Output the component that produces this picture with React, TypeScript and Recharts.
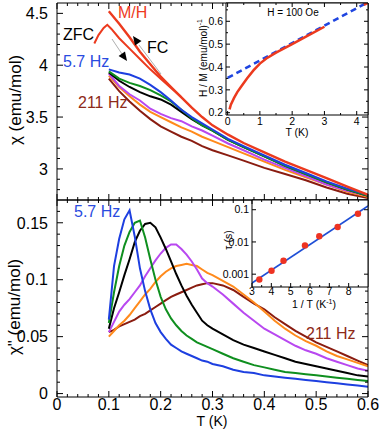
import React from "react";
import { ComposedChart, Line, Scatter, XAxis, YAxis } from "recharts";

const W = 382;
const H = 429;
const FONT = "'Liberation Sans', Arial, Helvetica, sans-serif";

// chi' (top panel), temperature grid in K
const tempsRe = [0.1, 0.12, 0.14, 0.16, 0.18, 0.2, 0.22, 0.24, 0.26, 0.28, 0.3, 0.33, 0.36, 0.4, 0.44, 0.48, 0.52, 0.56, 0.6];
const reBlue = [3.96, 3.93, 3.91, 3.87, 3.81, 3.74, 3.66, 3.57, 3.5, 3.44, 3.38, 3.29, 3.22, 3.13, 3.04, 2.96, 2.88, 2.81, 2.75];
const reGreen = [3.94, 3.87, 3.83, 3.8, 3.76, 3.71, 3.65, 3.57, 3.49, 3.42, 3.37, 3.28, 3.21, 3.12, 3.03, 2.95, 2.87, 2.8, 2.74];
const reBlack = [3.93, 3.85, 3.79, 3.74, 3.7, 3.67, 3.62, 3.55, 3.48, 3.42, 3.37, 3.28, 3.21, 3.12, 3.03, 2.95, 2.87, 2.8, 2.74];
const rePurple = [3.92, 3.8, 3.72, 3.66, 3.58, 3.53, 3.49, 3.46, 3.41, 3.37, 3.32, 3.245, 3.18, 3.09, 3.01, 2.93, 2.85, 2.79, 2.74];
const reOrange = [3.9, 3.79, 3.7, 3.62, 3.55, 3.5, 3.45, 3.4, 3.36, 3.31, 3.27, 3.21, 3.15, 3.07, 2.99, 2.92, 2.85, 2.78, 2.73];
const reBrown = [3.87, 3.75, 3.65, 3.56, 3.48, 3.41, 3.36, 3.31, 3.27, 3.22, 3.18, 3.13, 3.08, 3.01, 2.95, 2.89, 2.82, 2.76, 2.72];
const fcMH = [4.52, 4.4, 4.27, 4.13, 4.01, 3.89, 3.79, 3.69, 3.59, 3.5, 3.42, 3.33, 3.25, 3.16, 3.07, 2.99, 2.91, 2.83, 2.75];

// zero-field-cooled M/H branch
const zfcTemps = [0.072, 0.08, 0.09, 0.097, 0.105, 0.12, 0.14, 0.16, 0.18, 0.2, 0.22, 0.24];
const zfcMH = [4.21, 4.29, 4.36, 4.39, 4.35, 4.26, 4.16, 4.06, 3.96, 3.87, 3.78, 3.69];

// chi'' (bottom panel)
const tempsIm = [0.1, 0.11, 0.12, 0.13, 0.14, 0.15, 0.16, 0.17, 0.18, 0.19, 0.2, 0.21, 0.22, 0.23, 0.24, 0.25, 0.26, 0.27, 0.28, 0.29, 0.3, 0.32, 0.34, 0.36, 0.38, 0.4, 0.42, 0.44, 0.46, 0.48, 0.5, 0.52, 0.54, 0.56, 0.58, 0.6];
const imBlue = [0.065, 0.112, 0.136, 0.153, 0.161, 0.138, 0.11, 0.09, 0.074, 0.062, 0.054, 0.048, 0.043, 0.04, 0.037, 0.035, 0.033, 0.031, 0.029, 0.028, 0.026, 0.024, 0.021, 0.019, 0.018, 0.016, 0.015, 0.014, 0.013, 0.012, 0.011, 0.01, 0.009, 0.008, 0.007, 0.006];
const imGreen = [0.062, 0.089, 0.112, 0.13, 0.142, 0.15, 0.152, 0.137, 0.118, 0.1, 0.085, 0.074, 0.066, 0.06, 0.055, 0.051, 0.048, 0.045, 0.043, 0.041, 0.039, 0.035, 0.031, 0.028, 0.025, 0.023, 0.021, 0.019, 0.018, 0.017, 0.016, 0.015, 0.014, 0.013, 0.012, 0.011];
const imBlack = [0.057, 0.075, 0.089, 0.104, 0.118, 0.133, 0.143, 0.149, 0.15, 0.146, 0.137, 0.127, 0.116, 0.105, 0.095, 0.086, 0.078, 0.071, 0.064, 0.06, 0.057, 0.052, 0.047, 0.043, 0.04, 0.037, 0.034, 0.031, 0.028, 0.026, 0.024, 0.022, 0.02, 0.018, 0.016, 0.015];
const imPurple = [0.054, 0.063, 0.072, 0.078, 0.083, 0.089, 0.095, 0.103, 0.11, 0.117, 0.123, 0.128, 0.131, 0.131, 0.127, 0.122, 0.116, 0.109, 0.101, 0.097, 0.094, 0.087, 0.079, 0.071, 0.064, 0.057, 0.052, 0.047, 0.042, 0.038, 0.035, 0.031, 0.028, 0.025, 0.022, 0.02];
const imOrange = [0.05, 0.055, 0.06, 0.064, 0.069, 0.075, 0.081, 0.087, 0.092, 0.098, 0.103, 0.107, 0.11, 0.112, 0.113, 0.114, 0.113, 0.112, 0.109, 0.106, 0.104, 0.099, 0.094, 0.087, 0.08, 0.072, 0.064, 0.057, 0.051, 0.046, 0.042, 0.037, 0.033, 0.03, 0.027, 0.024];
const imBrown = [0.054, 0.056, 0.059, 0.061, 0.063, 0.065, 0.068, 0.07, 0.073, 0.076, 0.079, 0.082, 0.085, 0.087, 0.089, 0.091, 0.093, 0.095, 0.096, 0.097, 0.097, 0.095, 0.091, 0.085, 0.079, 0.074, 0.067, 0.061, 0.055, 0.05, 0.045, 0.041, 0.037, 0.033, 0.029, 0.025];

// inset: H/M vs T
const hmTemps = [0.06, 0.1, 0.2, 0.3, 0.4, 0.5, 0.6, 0.8, 1.0, 1.2, 1.5, 2.0, 2.5, 3.0];
const hmValues = [0.215, 0.235, 0.265, 0.29, 0.31, 0.33, 0.35, 0.385, 0.415, 0.437, 0.463, 0.5, 0.538, 0.576];
const hmTailTemps = [4.22, 4.35];
const hmTailValues = [0.672, 0.681];
const cwTemps = [0, 4.35];
const cwValues = [0.352, 0.684];

// inset: tau vs 1/T
const invT = [3.38, 4.01, 4.63, 5.74, 6.48, 7.43, 8.48];
const tau = [0.00068, 0.00128, 0.0026, 0.0078, 0.015, 0.029, 0.075];
const fitInvT = [3, 9];
const fitTau = [0.00053, 0.13];

const C = {
  blue: "#1d3fe0",
  green: "#0f8f1f",
  black: "#000000",
  purple: "#b848f0",
  orange: "#ff8a1c",
  brown: "#8a1c10",
  red: "#ec3a1e",
};

const steps = (from: number, to: number, step: number) => {
  const out: number[] = [];
  for (let v = from; v <= to + step / 1000; v += step) out.push(Math.round(v * 1e6) / 1e6);
  return out;
};

type Side = "bottom" | "top" | "left" | "right";
interface TickStyle {
  labels: boolean;
  fs: number;
  gap: number;
  major: number;
  minor: number;
}

const isIn = (list: number[], v: number) => list.some((m) => Math.abs(m - v) < 1e-9);

const tickFn = (side: Side, majors: number[], s: TickStyle) => (p: any) => {
  const v = Number(p.payload.value);
  const major = isIn(majors, v);
  const len = major ? s.major : s.minor;
  const { x, y } = p;
  const x2 = side === "left" ? x + len : side === "right" ? x - len : x;
  const y2 = side === "bottom" ? y - len : side === "top" ? y + len : y;
  let label = null;
  if (s.labels && major) {
    label =
      side === "bottom" ? (
        <text x={x} y={y + s.gap} textAnchor="middle" fontSize={s.fs} fontFamily={FONT} fill="#000">
          {String(v)}
        </text>
      ) : (
        <text x={x - s.gap} y={y + s.fs * 0.36} textAnchor="end" fontSize={s.fs} fontFamily={FONT} fill="#000">
          {String(v)}
        </text>
      );
  }
  return (
    <g>
      <line x1={x} y1={y} x2={x2} y2={y2} stroke="#000" strokeWidth={1} />
      {label}
    </g>
  );
};

interface FrameOpts {
  xKey: string;
  xDomain: [number, number];
  yDomain: [number, number];
  xTicks: number[];
  xMajor: number[];
  yTicks: number[];
  yMajor: number[];
  yScale?: "linear" | "log";
  xStyle: TickStyle;
  yStyle: TickStyle;
}

// axes are 1px thick, so every margin below is one px short of the frame edge
function frame(o: FrameOpts) {
  const mute = (s: TickStyle) => ({ ...s, labels: false });
  const common = { interval: 0 as const, tickSize: 0, tickMargin: 0, tickLine: false, axisLine: { stroke: "#000" }, allowDataOverflow: true };
  return [
    <XAxis key="xb" xAxisId="b" dataKey={o.xKey} type="number" domain={o.xDomain} ticks={o.xTicks} height={1} tick={tickFn("bottom", o.xMajor, o.xStyle)} {...common} />,
    <XAxis key="xt" xAxisId="t" dataKey={o.xKey} orientation="top" type="number" domain={o.xDomain} ticks={o.xTicks} height={1} tick={tickFn("top", o.xMajor, mute(o.xStyle))} {...common} />,
    <YAxis key="yl" yAxisId="l" type="number" scale={o.yScale ?? "linear"} domain={o.yDomain} ticks={o.yTicks} width={1} tick={tickFn("left", o.yMajor, o.yStyle)} {...common} />,
    <YAxis key="yr" yAxisId="r" orientation="right" type="number" scale={o.yScale ?? "linear"} domain={o.yDomain} ticks={o.yTicks} width={1} tick={tickFn("right", o.yMajor, mute(o.yStyle))} {...common} />,
  ];
}

// invisible series that gives the mirrored top/right axes something to scale
const mirror = (dataKey: string, data?: any[]) => (
  <Line key="mirror" xAxisId="t" yAxisId="r" data={data} dataKey={dataKey} stroke="none" dot={false} legendType="none" isAnimationActive={false} />
);

const box = (top: number, right: number, bottom: number, left: number) => ({
  top: top - 1,
  right: W - right - 1,
  bottom: H - bottom - 1,
  left: left - 1,
});

const layer: React.CSSProperties = { position: "absolute", left: 0, top: 0 };

const mainX = steps(0, 0.6, 0.1);
const mainXTicks = steps(0, 0.6, 0.02);

const reSeries: [string, string][] = [
  ["brown", C.brown],
  ["orange", C.orange],
  ["purple", C.purple],
  ["black", C.black],
  ["green", C.green],
  ["blue", C.blue],
];

function TopPanel() {
  const rows = tempsRe.map((t, i) => ({
    T: t,
    blue: reBlue[i],
    green: reGreen[i],
    black: reBlack[i],
    purple: rePurple[i],
    orange: reOrange[i],
    brown: reBrown[i],
    fc: fcMH[i],
  }));
  const zfc = zfcTemps.map((t, i) => ({ T: t, v: zfcMH[i] }));
  return (
    <div style={layer}>
      <ComposedChart width={W} height={H} data={rows} margin={box(3, 368, 200, 57)}>
        {frame({
          xKey: "T",
          xDomain: [0, 0.6],
          yDomain: [2.7, 4.6],
          xTicks: mainXTicks,
          xMajor: mainX,
          yTicks: steps(2.8, 4.5, 0.1),
          yMajor: [3, 3.5, 4, 4.5],
          xStyle: { labels: false, fs: 16, gap: 12.5, major: 6, minor: 3 },
          yStyle: { labels: true, fs: 16, gap: 9, major: 6, minor: 3 },
        })}
        {mirror("fc")}
        {reSeries.map(([k, c]) => (
          <Line key={k} xAxisId="b" yAxisId="l" dataKey={k} stroke={c} strokeWidth={2} dot={false} isAnimationActive={false} />
        ))}
        <Line xAxisId="b" yAxisId="l" data={zfc} dataKey="v" stroke={C.red} strokeWidth={2} dot={false} isAnimationActive={false} />
        <Line xAxisId="b" yAxisId="l" dataKey="fc" stroke={C.red} strokeWidth={2.4} dot={false} isAnimationActive={false} />
      </ComposedChart>
    </div>
  );
}

function BottomPanel() {
  const rows = tempsIm.map((t, i) => ({
    T: t,
    blue: imBlue[i],
    green: imGreen[i],
    black: imBlack[i],
    purple: imPurple[i],
    orange: imOrange[i],
    brown: imBrown[i],
  }));
  return (
    <div style={layer}>
      <ComposedChart width={W} height={H} data={rows} margin={box(200, 368, 397, 57)}>
        {frame({
          xKey: "T",
          xDomain: [0, 0.6],
          yDomain: [-0.003, 0.17],
          xTicks: mainXTicks,
          xMajor: mainX,
          yTicks: steps(0, 0.16, 0.01),
          yMajor: [0, 0.05, 0.1, 0.15],
          xStyle: { labels: true, fs: 16, gap: 12.5, major: 6, minor: 3 },
          yStyle: { labels: true, fs: 16, gap: 9, major: 6, minor: 3 },
        })}
        {mirror("blue")}
        {reSeries.map(([k, c]) => (
          <Line key={k} xAxisId="b" yAxisId="l" dataKey={k} stroke={c} strokeWidth={2} dot={false} isAnimationActive={false} />
        ))}
      </ComposedChart>
    </div>
  );
}

function InsetHM() {
  const curve = hmTemps.map((t, i) => ({ x: t, y: hmValues[i] }));
  const tail = hmTailTemps.map((t, i) => ({ x: t, y: hmTailValues[i] }));
  const cw = cwTemps.map((t, i) => ({ x: t, y: cwValues[i] }));
  return (
    <div style={layer}>
      <ComposedChart width={W} height={H} margin={box(3, 368, 115, 226)}>
        {frame({
          xKey: "x",
          xDomain: [-0.05, 4.35],
          yDomain: [0.19, 0.68],
          xTicks: steps(0, 4, 0.5),
          xMajor: [0, 1, 2, 3, 4],
          yTicks: steps(0.2, 0.65, 0.05),
          yMajor: [0.2, 0.3, 0.4, 0.5, 0.6],
          xStyle: { labels: true, fs: 10.5, gap: 10, major: 4, minor: 2 },
          yStyle: { labels: true, fs: 10.5, gap: 3, major: 4, minor: 2 },
        })}
        {mirror("y", cw)}
        <Line xAxisId="b" yAxisId="l" data={cw} dataKey="y" stroke="#1f45e0" strokeWidth={2.5} strokeDasharray="6 4" dot={false} isAnimationActive={false} />
        <Line xAxisId="b" yAxisId="l" data={curve} dataKey="y" stroke={C.red} strokeWidth={2.5} dot={false} isAnimationActive={false} />
        <Line xAxisId="b" yAxisId="l" data={tail} dataKey="y" stroke={C.red} strokeWidth={2.5} dot={false} isAnimationActive={false} />
      </ComposedChart>
    </div>
  );
}

function InsetTau() {
  const pts = invT.map((x, i) => ({ x, y: tau[i] }));
  const fit = fitInvT.map((x, i) => ({ x, y: fitTau[i] }));
  return (
    <div style={layer}>
      <ComposedChart width={W} height={H} margin={box(200, 368, 287, 252)}>
        {frame({
          xKey: "x",
          xDomain: [3, 9],
          yDomain: [0.0004, 0.2],
          yScale: "log",
          xTicks: steps(3, 8.5, 0.5),
          xMajor: [3, 4, 5, 6, 7, 8],
          yTicks: [0.001, 0.01, 0.1],
          yMajor: [0.001, 0.01, 0.1],
          xStyle: { labels: true, fs: 10.5, gap: 8, major: 4, minor: 2 },
          yStyle: { labels: true, fs: 10.5, gap: 3, major: 4, minor: 2 },
        })}
        {mirror("y", fit)}
        <Line xAxisId="b" yAxisId="l" data={fit} dataKey="y" stroke="#1f4fd6" strokeWidth={1.6} dot={false} isAnimationActive={false} />
        <Scatter
          xAxisId="b"
          yAxisId="l"
          data={pts}
          dataKey="y"
          fill="#ee3322"
          isAnimationActive={false}
          shape={(p: any) => <circle cx={p.cx} cy={p.cy} r={3.2} fill="#ee3322" />}
        />
      </ComposedChart>
    </div>
  );
}

function Notes() {
  return (
    <svg width={W} height={H} style={layer} fontFamily={FONT}>
      <text x={15} y={100} transform="rotate(-90 15 100)" textAnchor="middle" dominantBaseline="central" fontSize={17}>
        χ (emu/mol)
      </text>
      <text x={14} y={307} transform="rotate(-90 14 307)" textAnchor="middle" dominantBaseline="central" fontSize={17}>
        χ" (emu/mol)
      </text>
      <text x={212} y={425.5} textAnchor="middle" fontSize={14}>
        T (K)
      </text>

      <text x={118} y={18} fontSize={16} fill="#ee3a22">M/H</text>
      <text x={63} y={40} fontSize={16}>ZFC</text>
      <text x={147} y={53} fontSize={16}>FC</text>
      <text x={63} y={67} fontSize={16} fill="#2a4be0">5.7 Hz</text>
      <text x={78} y={108} fontSize={16} fill="#8e2a18">211 Hz</text>
      <text x={74} y={217} fontSize={16} fill="#2a4be0">5.7 Hz</text>
      <text x={306} y={339} fontSize={16} fill="#8e2a18">211 Hz</text>

      <line x1={112} y1={39} x2={122} y2={54} stroke="#999" strokeWidth={0.8} />
      <polygon points="127,61 125,51.4 118.6,56" fill="#000" />
      <line x1={139} y1={45} x2={161} y2={74} stroke="#999" strokeWidth={0.8} />
      <polygon points="133,36 141.5,41 135,45.6" fill="#000" />

      <text x={293} y={16} textAnchor="middle" fontSize={10}>H = 100 Oe</text>
      <text x={297} y={136} textAnchor="middle" fontSize={10.5}>T (K)</text>
      <text x={203} y={58} transform="rotate(-90 203 58)" textAnchor="middle" dominantBaseline="central" fontSize={10}>
        H / M (emu/mol)<tspan dy={-4} fontSize={7}>-1</tspan>
      </text>

      <text x={228} y={240} transform="rotate(-90 228 240)" textAnchor="middle" dominantBaseline="central" fontSize={10.5}>
        τ (s)
      </text>
      <text x={314} y={308} textAnchor="middle" fontSize={10.5}>
        1 / T (K<tspan dy={-4} fontSize={7}>-1</tspan>
        <tspan dy={4}>)</tspan>
      </text>
    </svg>
  );
}

export default function App() {
  return (
    <div style={{ position: "absolute", left: 0, top: 0, width: W, height: H, background: "#fff", overflow: "hidden", fontFamily: FONT }}>
      <TopPanel />
      <BottomPanel />
      <div style={{ position: "absolute", left: 226, top: 3, width: 142, height: 112, background: "#fff" }} />
      <div style={{ position: "absolute", left: 252, top: 200, width: 116, height: 87, background: "#fff" }} />
      <InsetHM />
      <InsetTau />
      <Notes />
    </div>
  );
}
